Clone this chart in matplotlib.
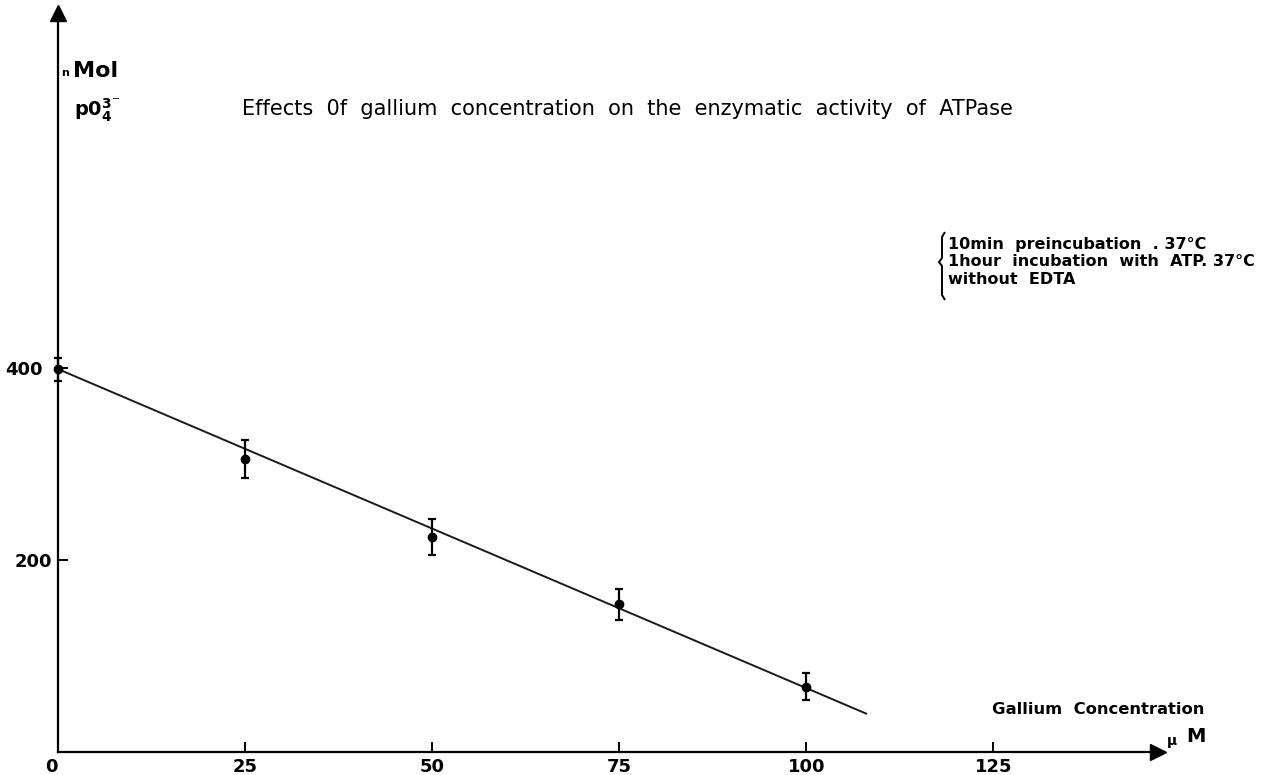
import matplotlib
matplotlib.use("Agg")
import matplotlib.pyplot as plt
from matplotlib.path import Path
from matplotlib.patches import PathPatch
from matplotlib.transforms import ScaledTranslation

# data
concentration = [0, 25, 50, 75, 100]          # uM gallium
activity = [399, 305, 224, 154, 68]           # nMol PO4 3-
activity_err = [12, 20, 19, 16, 14]
fit_x = [0, 108]
fit_y = [399, 40]
x_ticks = [0, 25, 50, 75, 100, 125]
y_ticks = [200, 400]

W, H = 1287, 775
plt.rcParams['font.family'] = ['DejaVu Sans']
plt.rcParams['mathtext.fontset'] = 'dejavusans'

fig = plt.figure(figsize=(W / 100, H / 100), dpi=100)
ax = fig.add_axes([58 / W, 23 / H, 1100 / W, 739 / H])


def px(x, y):
    # pixel position (from top left) to figure fraction
    return x / W, 1 - y / H


ax.plot(fit_x, fit_y, color='#1a1a1a', lw=1.4, zorder=2)
ax.errorbar(concentration, activity, yerr=activity_err, fmt='o', color='black',
            ms=6, elinewidth=1.6, capsize=3, capthick=1.6, zorder=3, clip_on=False)

ax.set_xlim(0, 147)
ax.set_ylim(0, 770)
for s in ['top', 'right']:
    ax.spines[s].set_visible(False)
for s in ['left', 'bottom']:
    ax.spines[s].set_linewidth(1.6)
ax.set_xticks(x_ticks)
ax.set_yticks(y_ticks)
ax.tick_params(direction='in', length=7, width=1.4, labelsize=13, pad=4)
for lab in ax.get_xticklabels() + ax.get_yticklabels():
    lab.set_fontweight('bold')
ax.get_xticklabels()[0].set_horizontalalignment('right')
# 400 sits a bit further left, clear of the error bar cap
lab400 = ax.yaxis.get_major_ticks()[1].label1
lab400.set_transform(lab400.get_transform() + ScaledTranslation(-7 / 72, 0, fig.dpi_scale_trans))

# arrow heads at the end of both axes
ax.plot(1, 0, '>k', ms=11, transform=ax.transAxes, clip_on=False)
ax.plot(0, 1, '^k', ms=11, transform=ax.transAxes, clip_on=False)

# y-axis unit
fig.text(*px(61, 73), 'n', fontsize=8, fontweight='bold', va='center')
fig.text(*px(73, 71), 'Mol', fontsize=16, fontweight='bold', va='center')
fig.text(*px(74, 110), r'$\mathbf{p0}_{\mathbf{4}}^{\mathbf{3}^{-}}$', fontsize=14, va='center')

fig.text(*px(242, 109), 'Effects  0f  gallium  concentration  on  the  enzymatic  activity  of  ATPase',
         fontsize=15, va='center')

# incubation conditions with a brace
cond = ['10min  preincubation  . 37\u00b0C',
        '1hour  incubation  with  ATP. 37\u00b0C',
        'without  EDTA']
for i, line in enumerate(cond):
    fig.text(*px(948, 244 + 18 * i), line, fontsize=11.5, fontweight='bold', va='center')

bx, top, mid, bot = 942, 232, 262, 300
verts = [px(bx + 3, top), px(bx, top + 5), px(bx, mid - 4), px(bx - 3, mid),
         px(bx, mid + 4), px(bx, bot - 5), px(bx + 3, bot)]
brace = PathPatch(Path(verts, [Path.MOVETO] + [Path.LINETO] * 6),
                  transform=fig.transFigure, fill=False, lw=1.4, color='black')
fig.add_artist(brace)

fig.text(*px(992, 710), 'Gallium  Concentration', fontsize=11.8, fontweight='bold', va='center')
fig.text(*px(1167, 741), '\u00b5', fontsize=10, fontweight='bold', va='center')
fig.text(*px(1186, 737), 'M', fontsize=14, fontweight='bold', va='center')

fig.savefig('out.png', dpi=100)
